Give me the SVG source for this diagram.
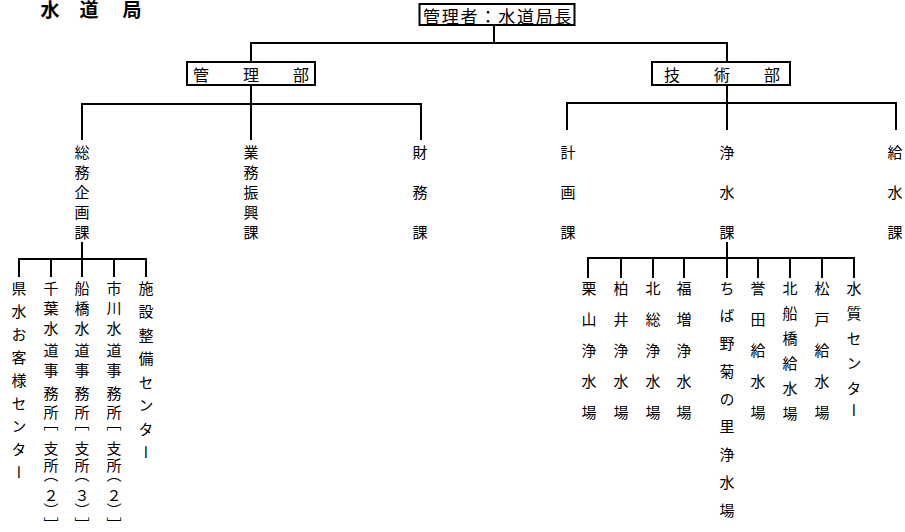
<svg xmlns="http://www.w3.org/2000/svg" width="905" height="532" viewBox="0 0 905 532">
<style>
  text { font-family: "Noto Sans CJK JP", "Noto Sans", sans-serif; fill: #000; }
  .v { writing-mode: vertical-rl; font-size: 15px; }
  .box { fill: #fff; stroke: #000; stroke-width: 2; }
  .ttl { font-size: 16px; text-anchor: middle; dominant-baseline: central; }
  .ln { fill: none; stroke: #000; stroke-width: 2; }
</style>
<rect width="905" height="532" fill="#fff"/>
<text id="title" x="50 89 132" y="16.5" text-anchor="middle" font-size="19" font-weight="bold">水道局</text>

<g id="connectors">
  <path class="ln" d="M494 25 V43"/>
  <path class="ln" d="M251 62 V43 H727 V62"/>
  <path class="ln" d="M82 140 V104 H421 V140"/>
  <path class="ln" d="M251 85 V140"/>
  <path class="ln" d="M567 130 V103 H896 V130"/>
  <path class="ln" d="M727 85 V130"/>
  <path class="ln" d="M82 242 V277"/>
  <path class="ln" d="M19 277 V259 H146 V277"/>
  <path class="ln" d="M51 259 V277 M114 259 V277"/>
  <path class="ln" d="M727 242 V278"/>
  <path class="ln" d="M588 278 V258 H854 V278"/>
  <path class="ln" d="M621 258 V278 M653 258 V278 M684 258 V278 M758 258 V278 M790 258 V278 M822 258 V278"/>
</g>

<g id="director">
  <rect class="box" x="419.5" y="4" width="155" height="21"/>
  <text x="423" y="15" font-size="17" letter-spacing="1.8" dominant-baseline="central">管理者：水道局長</text>
</g>
<g id="kanri">
  <rect class="box" x="187" y="62" width="128" height="23"/>
  <text class="ttl" x="201 251 301" y="73.5">管理部</text>
</g>
<g id="gijutsu">
  <rect class="box" x="652" y="62" width="138" height="23"/>
  <text class="ttl" x="672 722 772" y="73.5">技術部</text>
</g>

<g id="soumu"><text class="v" x="82" y="144.5 164.5 184.5 204.5 224.5">総務企画課</text></g>
<g id="gyoumu"><text class="v" x="251" y="144.5 164.5 184.5 204.5 224.5">業務振興課</text></g>
<g id="zaimu"><text class="v" x="420" y="144.5 184.5 224.5">財務課</text></g>
<g id="keikaku"><text class="v" x="568" y="144.5 184.5 224.5">計画課</text></g>
<g id="jousui"><text class="v" x="727" y="144.5 184.5 224.5">浄水課</text></g>
<g id="kyuusui"><text class="v" x="895" y="144.5 184.5 224.5">給水課</text></g>

<g id="kensui"><text class="v" x="19" y="280.5 303.5 326.5 349.5 372.5 395.5 418.5 441.5 464.5">県水お客様センター</text></g>
<g id="chiba"><text class="v" x="51" y="280.5 300.5 320.5 342.5 362.5 385.5 404.5 415.5 440.5 457.5 466.5 487.5 503 516.5">千葉水道事務所［支所（２）］</text></g>
<g id="funabashi"><text class="v" x="82" y="280.5 300.5 320.5 342.5 362.5 385.5 404.5 415.5 440.5 457.5 466.5 487.5 503 516.5">船橋水道事務所［支所（３）］</text></g>
<g id="ichikawa"><text class="v" x="114" y="280.5 300.5 320.5 342.5 362.5 385.5 404.5 415.5 440.5 457.5 466.5 487.5 503 516.5">市川水道事務所［支所（２）］</text></g>
<g id="shisetsu"><text class="v" x="146" y="280.5 304 327.5 351 374.5 398 421.5 444.5">施設整備センター</text></g>

<g id="kuriyama"><text class="v" x="589" y="280.5 311.5 342.5 373.5 404.5">栗山浄水場</text></g>
<g id="kashiwai"><text class="v" x="621" y="280.5 311.5 342.5 373.5 404.5">柏井浄水場</text></g>
<g id="hokusou"><text class="v" x="653" y="280.5 311.5 342.5 373.5 404.5">北総浄水場</text></g>
<g id="fukumasu"><text class="v" x="684" y="280.5 311.5 342.5 373.5 404.5">福増浄水場</text></g>
<g id="chibanogiku"><text class="v" x="727" y="280.5 308.25 336 363.75 391.5 419.25 447 474.75 502.5">ちば野菊の里浄水場</text></g>
<g id="honda"><text class="v" x="758" y="280.5 311.5 342.5 373.5 404.5">誉田給水場</text></g>
<g id="kitafunabashi"><text class="v" x="790" y="280.5 305.5 330.5 355.5 380.5 405.5">北船橋給水場</text></g>
<g id="matsudo"><text class="v" x="822" y="280.5 311.5 342.5 373.5 404.5">松戸給水場</text></g>
<g id="suishitsu"><text class="v" x="854" y="280.5 305.5 330.5 355.5 380.5 403">水質センター</text></g>
</svg>
